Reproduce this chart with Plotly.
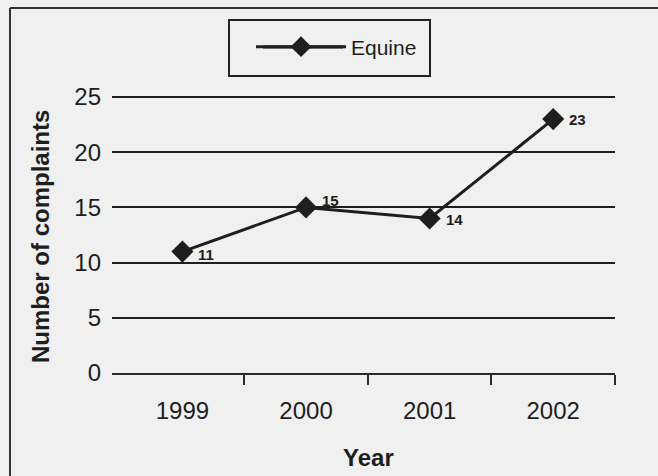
import plotly.graph_objects as go

years = [1999, 2000, 2001, 2002]
complaints = [11, 15, 14, 23]
series_name = "Equine"
y_ticks = [0, 5, 10, 15, 20, 25]

# label nudges (pixels) so the value labels sit as in the original
label_dy = [-3, 7, -1, 0]

W, H = 658, 476
L, R = 112, 615   # plot area left/right px
T, B = 86, 373    # plot area top/bottom px

def px(x):
    return (x - L) / (R - L)

def py(y):
    return (B - y) / (B - T)

INK = "#1e1e1e"
FONT = "Liberation Sans, Arial, sans-serif"

fig = go.Figure()
fig.add_trace(go.Scatter(
    x=years, y=complaints, name=series_name,
    mode="lines+markers",
    line=dict(color=INK, width=3),
    marker=dict(symbol="diamond", size=17, color=INK),
    cliponaxis=False,
))

shapes = [
    # figure frame (left and top rules)
    dict(type="line", xref="paper", yref="paper", x0=px(10), x1=px(10), y0=py(8), y1=py(H + 5),
         line=dict(color="#333333", width=2)),
    dict(type="line", xref="paper", yref="paper", x0=px(10), x1=px(W + 5), y0=py(8), y1=py(8),
         line=dict(color="#333333", width=2)),
    # legend box
    dict(type="rect", xref="paper", yref="paper", x0=px(229), x1=px(430), y0=py(20), y1=py(76),
         line=dict(color="#222222", width=2), fillcolor="rgba(0,0,0,0)"),
    # long legend line
    dict(type="line", xref="paper", yref="paper", x0=px(263), x1=px(343), y0=py(47), y1=py(47),
         line=dict(color=INK, width=3)),
]

annotations = [
    dict(text="<b>Year</b>", xref="paper", yref="paper", x=px(368), y=py(457),
         xanchor="center", yanchor="middle", showarrow=False,
         font=dict(family=FONT, size=24, color=INK)),
    dict(text="<b>Number of complaints</b>", xref="paper", yref="paper", x=px(40), y=py(237),
         xanchor="center", yanchor="middle", showarrow=False, textangle=-90,
         font=dict(family=FONT, size=24, color=INK)),
]
for xv, yv, dy in zip(years, complaints, label_dy):
    annotations.append(dict(
        text=f"<b>{yv}</b>", x=xv, y=yv, xref="x", yref="y",
        xanchor="left", yanchor="middle", xshift=14, yshift=dy,
        showarrow=False, font=dict(family=FONT, size=15, color=INK),
    ))

fig.update_layout(
    width=W, height=H,
    margin=dict(l=L, r=W - R, t=T, b=H - B, pad=0, autoexpand=False),
    paper_bgcolor="#f0f0f0",
    plot_bgcolor="#f0f0f0",
    font=dict(family=FONT, color=INK),
    showlegend=True,
    legend=dict(
        x=px(251), y=py(47), xanchor="left", yanchor="middle",
        xref="paper", yref="paper",
        bgcolor="rgba(0,0,0,0)", borderwidth=0,
        font=dict(family=FONT, size=21, color=INK),
        itemsizing="trace", itemwidth=90,
    ),
    xaxis=dict(
        range=[1998.43, 2002.5],
        tickvals=years, ticktext=[str(y) for y in years],
        ticks="", showgrid=False, zeroline=False,
        showline=True, linecolor="#2a2a2a", linewidth=2,
        tickfont=dict(family=FONT, size=24, color=INK),
        ticklabelstandoff=15,
        minor=dict(tickvals=[y + 0.5 for y in years], ticks="outside",
                   ticklen=10, tickwidth=2, tickcolor="#2a2a2a", showgrid=False),
    ),
    yaxis=dict(
        range=[0, 26],
        tickvals=y_ticks, ticks="",
        showgrid=True, gridcolor="#1e1e1e", gridwidth=2,
        zeroline=False, showline=False,
        tickfont=dict(family=FONT, size=24, color=INK),
        ticklabelstandoff=10,
    ),
    shapes=shapes,
    annotations=annotations,
)

fig.write_html(
    "out.html",
    config={"displayModeBar": False},
    post_script="document.body.style.margin='0px';document.body.style.overflow='hidden';",
)
